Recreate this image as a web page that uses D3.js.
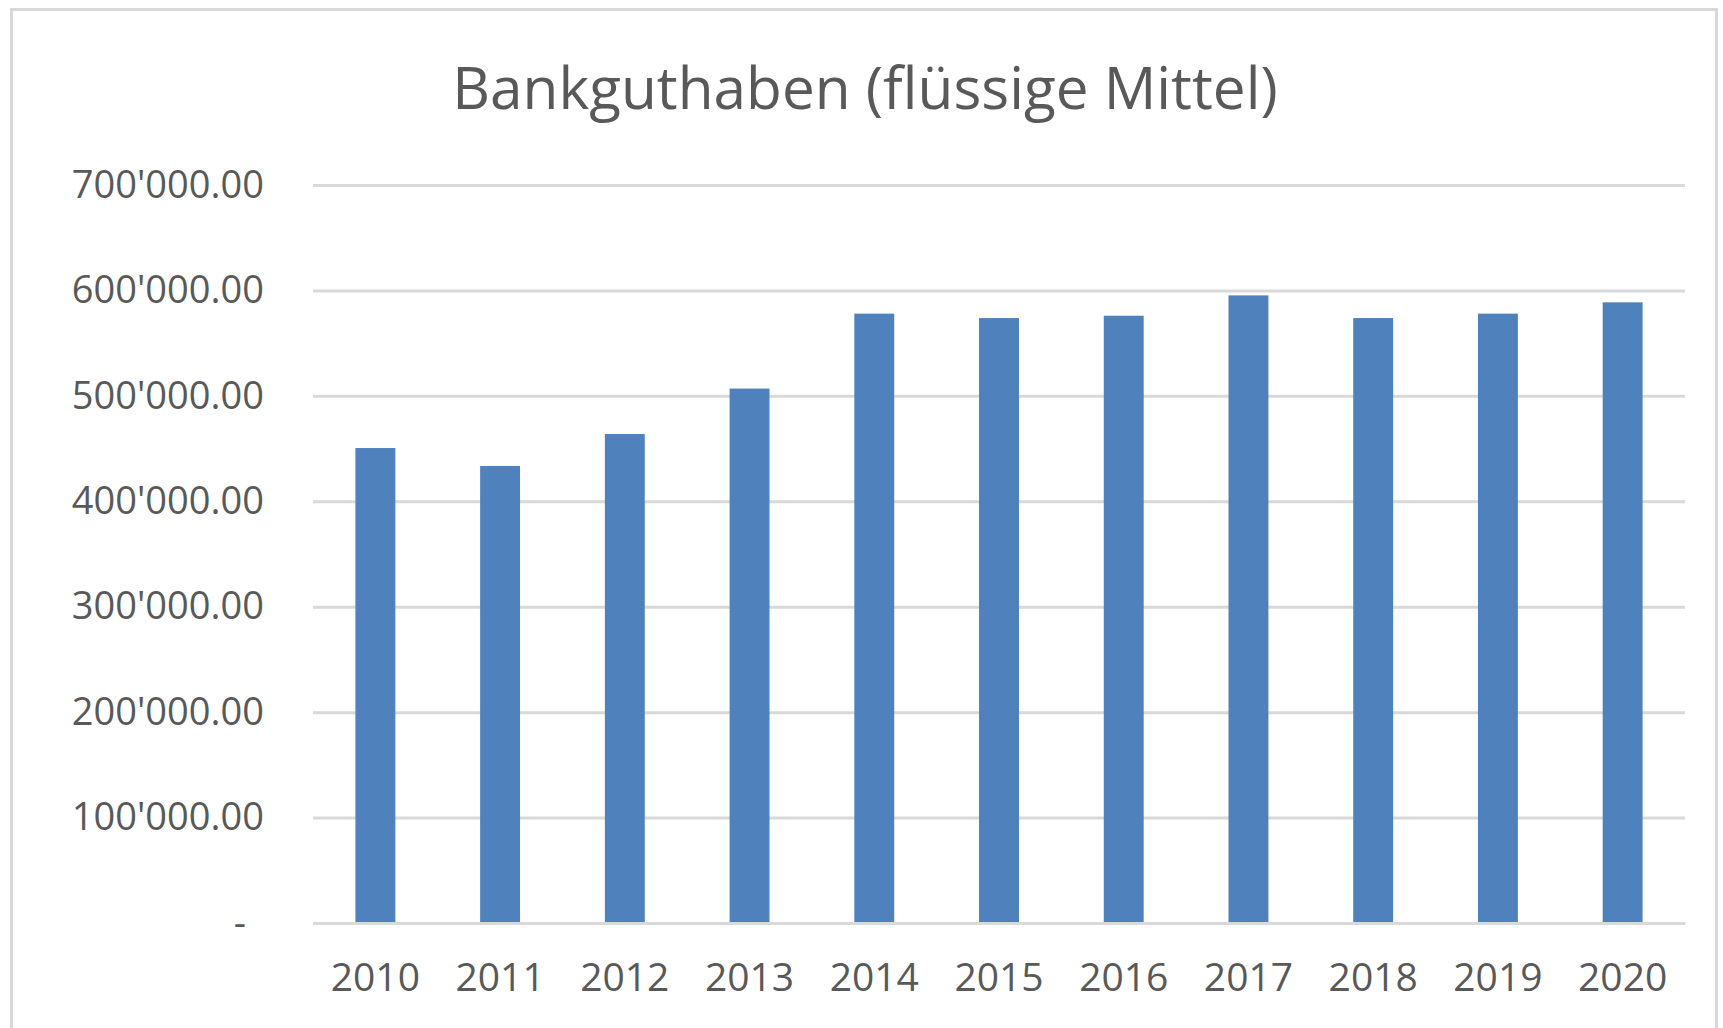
<!DOCTYPE html>
<html>
<head>
<meta charset="utf-8">
<script src="https://cdn.jsdelivr.net/npm/d3@7"></script>
<style>
  body { margin: 0; background: #fff; }
  text { font-family: "Open Sans", "Noto Sans", sans-serif; fill: #595959; }
</style>
</head>
<body>
<div id="main"></div>
<script>
const years = ["2010", "2011", "2012", "2013", "2014", "2015", "2016", "2017", "2018", "2019", "2020"];
const bankguthaben = [450500, 433500, 463800, 506900, 578000, 573800, 576000, 595300, 573800, 578000, 588700];
const yTicks = [0, 100000, 200000, 300000, 400000, 500000, 600000, 700000];
const titel = "Bankguthaben (flüssige Mittel)";

const W = 1723, H = 1028;
const m = { left: 313, right: 38, top: 185, bottom: 105 };
const innerW = W - m.left - m.right;
const innerH = H - m.top - m.bottom;

const svg = d3.select("#main")
  .append("svg")
  .attr("width", W)
  .attr("height", H);

// Rahmen
svg.append("rect")
  .attr("x", 11.5).attr("y", 9.5)
  .attr("width", 1705).attr("height", 1040)
  .attr("fill", "none")
  .attr("stroke", "#d9d9d9")
  .attr("stroke-width", 3);

svg.append("text")
  .attr("x", 865)
  .attr("y", 109)
  .attr("text-anchor", "middle")
  .style("font-size", "58.5px")
  .text(titel);

const g = svg.append("g").attr("transform", `translate(${m.left},${m.top})`);

const x = d3.scaleBand().domain(years).range([0, innerW]).paddingInner(0.68).paddingOuter(0.34);
const y = d3.scaleLinear().domain([0, 700000]).range([innerH, 0]);

const fmt = d => d === 0 ? "-" : d3.format(",.2f")(d).replace(/,/g, "'");

// Gitternetz
g.append("g")
  .call(d3.axisLeft(y).tickValues(yTicks).tickSize(-innerW).tickFormat(""))
  .call(a => a.select(".domain").remove())
  .selectAll("line")
  .attr("stroke", "#d9d9d9")
  .attr("stroke-width", 3);

// Y-Achse Beschriftung
g.append("g")
  .attr("transform", "translate(-46,0)")
  .call(d3.axisLeft(y).tickValues(yTicks).tickSize(0).tickFormat(fmt))
  .call(a => a.select(".domain").remove())
  .selectAll("text")
  .style("font-size", "38px")
  .attr("fill", "#595959")
  .attr("dy", "0.32em")
  .attr("dx", d => d === 0 ? -18 : 0);

g.selectAll(".bar")
  .data(bankguthaben)
  .enter()
  .append("rect")
  .attr("class", "bar")
  .attr("x", (d, i) => x(years[i]))
  .attr("y", d => y(d))
  .attr("width", x.bandwidth())
  .attr("height", d => innerH - y(d))
  .attr("fill", "#4f81bd");

// X-Achse
g.append("g")
  .attr("transform", `translate(0,${innerH})`)
  .call(d3.axisBottom(x).tickSize(0).tickPadding(40))
  .call(a => a.select(".domain").attr("stroke", "#d9d9d9").attr("stroke-width", 3))
  .selectAll("text")
  .style("font-size", "39px")
  .attr("fill", "#595959");
</script>
</body>
</html>
